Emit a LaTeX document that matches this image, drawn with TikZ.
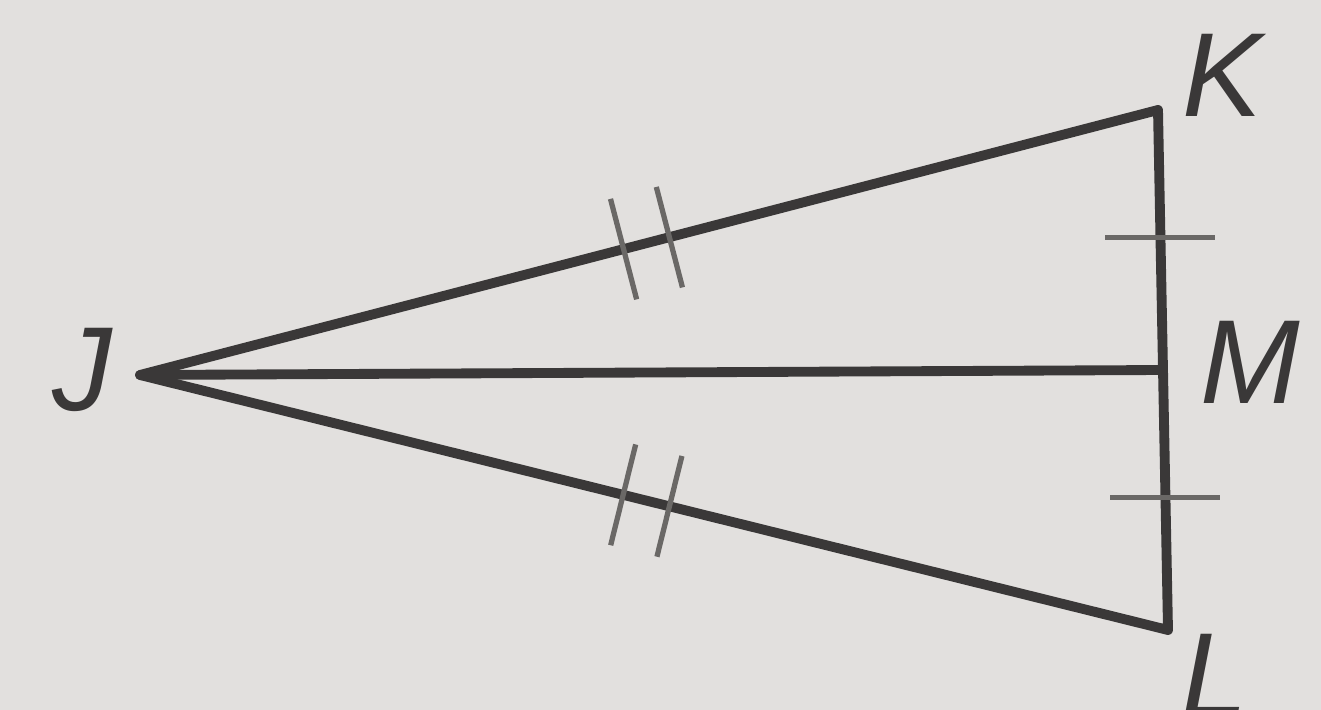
\documentclass[tikz,border=0pt]{standalone}
\usepackage{fontspec}
\setmainfont{Liberation Sans}
\usetikzlibrary{calc}
\definecolor{bg}{HTML}{E2E0DE}
\definecolor{ink}{HTML}{3A3838}
\definecolor{tick}{HTML}{6A6866}
\tikzset{
  side/.style={draw=ink, line width=2.8pt, line join=round, line cap=round},
  tickmark/.style={draw=tick, line width=1.5pt},
  lab/.style={text=ink, font=\fontsize{34}{40}\selectfont\itshape, inner sep=0pt}
}
\begin{document}
\begin{tikzpicture}[x=0.01cm, y=-0.01cm]
\fill[bg] (0,0) rectangle (1321,710);
\useasboundingbox (0,0) rectangle (1321,710);
\coordinate (J) at (140,375);
\coordinate (K) at (1158,110);
\coordinate (M) at (1163,370);
\coordinate (L) at (1168,630);
\draw[side] (J) -- (K) -- (L) -- cycle;
\draw[side] (J) -- (M);
% double ticks on JK
\coordinate (a1) at ($(J)!0.475!(K)$);
\coordinate (a2) at ($(J)!0.52!(K)$);
\draw[tickmark] ($(a1)!52pt*0.01/0.0352!90:(K)$) -- ($(a1)!52pt*0.01/0.0352!-90:(K)$);
\draw[tickmark] ($(a2)!52pt*0.01/0.0352!90:(K)$) -- ($(a2)!52pt*0.01/0.0352!-90:(K)$);
% double ticks on JL
\coordinate (b1) at ($(J)!0.47!(L)$);
\coordinate (b2) at ($(J)!0.515!(L)$);
\draw[tickmark] ($(b1)!52pt*0.01/0.0352!90:(L)$) -- ($(b1)!52pt*0.01/0.0352!-90:(L)$);
\draw[tickmark] ($(b2)!52pt*0.01/0.0352!90:(L)$) -- ($(b2)!52pt*0.01/0.0352!-90:(L)$);
% single ticks on KM and ML
\coordinate (c1) at ($(K)!0.49!(M)$);
\coordinate (c2) at ($(M)!0.49!(L)$);
\draw[tickmark] ($(c1)+(-55,0)$) -- ($(c1)+(55,0)$);
\draw[tickmark] ($(c2)+(-55,0)$) -- ($(c2)+(55,0)$);
\node[lab] (lK) at (1222,75) {K};
\node[lab] (lM) at (1250,362) {M};
\node[lab] (lJ) at (82,370) {J};
\node[lab] (lL) at (1215,675) {L};
\end{tikzpicture}
\end{document}
